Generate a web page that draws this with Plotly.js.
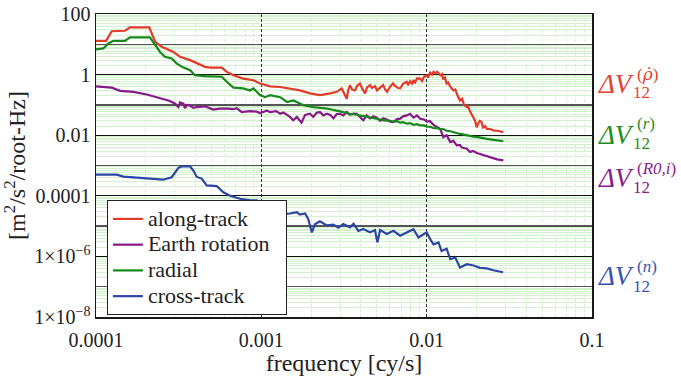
<!DOCTYPE html>
<html>
<head>
<meta charset="utf-8">
<script src="https://cdn.plot.ly/plotly-3.0.1.min.js"></script>
<style>html,body{margin:0;padding:0;background:#fff;}#chart{width:681px;height:378px;}</style>
</head>
<body>
<div id="chart"></div>
<script>
// ---------- data ----------
const seriesNames = ['along-track', 'Earth rotation', 'radial', 'cross-track'];

const freqAlong = [1.00e-4,1.15e-4,1.245e-4,1.497e-4,1.606e-4,2.10e-4,2.28e-4,2.50e-4,2.94e-4,3.22e-4,3.71e-4,4.16e-4,4.56e-4,4.89e-4,5.76e-4,6.18e-4,6.78e-4,7.78e-4,8.95e-4,9.82e-4,1.13e-3,1.30e-3,1.50e-3,1.71e-3,1.97e-3,2.26e-3,2.61e-3,2.86e-3,3.06e-3,3.29e-3,3.35e-3,3.44e-3,3.54e-3,3.69e-3,3.79e-3,3.95e-3,4.07e-3,4.24e-3,4.36e-3,4.55e-3,4.67e-3,4.87e-3,5.01e-3,5.23e-3,5.45e-3,5.60e-3,5.76e-3,6.01e-3,6.26e-3,6.44e-3,6.71e-3,6.91e-3,7.20e-3,7.58e-3,7.72e-3,7.94e-3,8.16e-3,8.32e-3,8.51e-3,8.75e-3,9.13e-3,9.38e-3,9.64e-3,1.00e-2,1.02e-2,1.05e-2,1.078e-2,1.10e-2,1.124e-2,1.156e-2,1.21e-2,1.24e-2,1.257e-2,1.29e-2,1.32e-2,1.35e-2,1.39e-2,1.45e-2,1.49e-2,1.53e-2,1.59e-2,1.64e-2,1.68e-2,1.75e-2,1.78e-2,1.83e-2,1.87e-2,1.91e-2,1.96e-2,2.01e-2,2.05e-2,2.10e-2,2.15e-2,2.19e-2,2.26e-2,2.31e-2,2.42e-2,2.53e-2,2.67e-2,2.78e-2,2.91e-2];
const psdAlong = [13,13,27,28,36,36,12,8.3,5.6,3.9,3.0,2.3,1.8,1.7,1.7,1.23,0.95,0.74,0.65,0.51,0.41,0.39,0.34,0.30,0.24,0.21,0.24,0.27,0.35,0.16,0.30,0.45,0.32,0.30,0.42,0.51,0.35,0.24,0.38,0.45,0.36,0.42,0.30,0.38,0.45,0.33,0.27,0.40,0.51,0.42,0.36,0.35,0.50,0.58,0.45,0.60,0.50,0.65,0.55,0.75,0.74,0.62,0.85,0.95,0.80,1.15,1.0,1.23,1.1,1.25,0.95,1.05,0.70,0.80,0.51,0.55,0.40,0.30,0.32,0.22,0.14,0.16,0.10,0.085,0.09,0.06,0.051,0.04,0.03,0.018,0.025,0.03,0.027,0.018,0.02,0.016,0.016,0.0145,0.014,0.013,0.0126];

const freqEarth = [1.00e-4,1.245e-4,1.397e-4,1.682e-4,2.03e-4,2.44e-4,2.80e-4,3.01e-4,3.15e-4,3.22e-4,3.38e-4,3.45e-4,3.54e-4,3.71e-4,3.88e-4,4.07e-4,4.36e-4,4.56e-4,5.12e-4,5.63e-4,6.18e-4,6.78e-4,7.10e-4,7.61e-4,8.55e-4,9.38e-4,9.82e-4,1.08e-3,1.13e-3,1.23e-3,1.30e-3,1.36e-3,1.43e-3,1.49e-3,1.56e-3,1.64e-3,1.75e-3,1.84e-3,1.97e-3,2.06e-3,2.16e-3,2.26e-3,2.37e-3,2.49e-3,2.61e-3,2.73e-3,2.86e-3,2.99e-3,3.13e-3,3.29e-3,3.44e-3,3.61e-3,3.78e-3,3.95e-3,4.14e-3,4.34e-3,4.55e-3,4.76e-3,4.99e-3,5.23e-3,5.47e-3,5.74e-3,6.01e-3,6.29e-3,6.62e-3,6.91e-3,7.20e-3,7.58e-3,7.94e-3,8.32e-3,8.75e-3,9.13e-3,9.64e-3,1.00e-2,1.05e-2,1.10e-2,1.156e-2,1.21e-2,1.26e-2,1.32e-2,1.39e-2,1.45e-2,1.52e-2,1.59e-2,1.63e-2,1.75e-2,1.83e-2,1.91e-2,2.01e-2,2.10e-2,2.31e-2,2.42e-2,2.67e-2,2.91e-2];
const psdEarth = [0.41,0.37,0.29,0.27,0.22,0.17,0.135,0.11,0.085,0.12,0.11,0.078,0.10,0.095,0.08,0.085,0.085,0.09,0.07,0.075,0.075,0.072,0.078,0.058,0.062,0.06,0.054,0.064,0.058,0.062,0.051,0.056,0.047,0.04,0.031,0.04,0.026,0.047,0.051,0.04,0.055,0.058,0.045,0.051,0.047,0.036,0.05,0.051,0.045,0.058,0.047,0.052,0.051,0.04,0.031,0.045,0.036,0.042,0.038,0.03,0.036,0.033,0.028,0.027,0.034,0.035,0.042,0.045,0.051,0.038,0.045,0.035,0.033,0.028,0.029,0.022,0.018,0.016,0.0086,0.010,0.0059,0.0065,0.0046,0.0048,0.0039,0.0036,0.0028,0.0030,0.0026,0.0024,0.0021,0.0019,0.0016,0.00147];

const freqRadial = [1.00e-4,1.107e-4,1.187e-4,1.273e-4,1.497e-4,1.606e-4,2.12e-4,2.28e-4,2.44e-4,2.61e-4,2.87e-4,3.08e-4,3.38e-4,3.71e-4,3.97e-4,4.56e-4,5.37e-4,5.76e-4,6.18e-4,6.78e-4,7.78e-4,8.55e-4,8.95e-4,9.82e-4,1.052e-3,1.13e-3,1.30e-3,1.43e-3,1.56e-3,1.80e-3,2.06e-3,2.49e-3,3.13e-3,3.44e-3,3.78e-3,3.95e-3,4.34e-3,4.55e-3,4.99e-3,5.47e-3,6.01e-3,6.29e-3,6.62e-3,6.91e-3,7.20e-3,7.58e-3,7.94e-3,8.32e-3,8.75e-3,9.13e-3,9.64e-3,1.00e-2,1.05e-2,1.10e-2,1.156e-2,1.21e-2,1.257e-2,1.32e-2,1.39e-2,1.45e-2,1.53e-2,1.59e-2,1.68e-2,1.75e-2,1.83e-2,1.91e-2,2.01e-2,2.10e-2,2.20e-2,2.31e-2,2.42e-2,2.53e-2,2.67e-2,2.78e-2,2.91e-2];
const psdRadial = [6.8,7.3,10.7,13,13,17,17,9.4,5.6,3.9,3.4,2.3,1.7,1.4,0.95,0.89,0.89,0.85,0.58,0.37,0.35,0.30,0.35,0.21,0.18,0.21,0.18,0.125,0.14,0.098,0.085,0.076,0.058,0.05,0.048,0.044,0.041,0.038,0.035,0.031,0.030,0.028,0.029,0.026,0.027,0.024,0.025,0.022,0.023,0.021,0.021,0.019,0.019,0.017,0.0175,0.0155,0.016,0.014,0.0135,0.0125,0.012,0.011,0.0105,0.0099,0.0095,0.009,0.0088,0.0083,0.008,0.0076,0.0073,0.007,0.0067,0.0065,0.0063];

const freqCross = [1.00e-4,1.334e-4,1.463e-4,1.933e-4,2.55e-4,2.87e-4,3.15e-4,3.30e-4,3.71e-4,3.88e-4,4.07e-4,4.36e-4,4.67e-4,5.37e-4,5.89e-4,6.47e-4,7.43e-4,8.55e-4,9.38e-4,1.08e-3,1.23e-3,1.36e-3,1.49e-3,1.64e-3,1.71e-3,1.84e-3,1.92e-3,2.02e-3,2.11e-3,2.26e-3,2.49e-3,2.73e-3,2.92e-3,3.13e-3,3.44e-3,3.61e-3,3.86e-3,4.14e-3,4.55e-3,4.87e-3,5.03e-3,5.23e-3,5.74e-3,6.29e-3,6.91e-3,7.58e-3,8.32e-3,8.92e-3,9.57e-3,1.00e-2,1.05e-2,1.10e-2,1.18e-2,1.23e-2,1.32e-2,1.39e-2,1.49e-2,1.59e-2,1.75e-2,1.92e-2,2.10e-2,2.31e-2,2.53e-2,2.78e-2,2.90e-2];
const psdCross = [5.0e-4,5.0e-4,4.3e-4,3.9e-4,3.4e-4,4.1e-4,8.4e-4,9.3e-4,9.3e-4,6.8e-4,4.2e-4,3.7e-4,2.2e-4,2.1e-4,1.3e-4,1.0e-4,8.0e-5,7.1e-5,7.1e-5,4.5e-5,3.2e-5,2.5e-5,2.6e-5,2.9e-5,2.4e-5,2.6e-5,1.72e-5,6.2e-6,1.15e-5,1.45e-5,1.05e-5,1.12e-5,8.8e-6,1.17e-5,9.1e-6,1.2e-5,6.9e-6,8.0e-6,6.2e-6,7.4e-6,2.9e-6,7.4e-6,5.5e-6,7.0e-6,4.8e-6,6.2e-6,7.9e-6,4.2e-6,5.5e-6,6.2e-6,3.7e-6,2.5e-6,2.9e-6,1.5e-6,1.8e-6,8.1e-7,9.2e-7,4.3e-7,5.5e-7,5.0e-7,4.2e-7,4.0e-7,3.5e-7,3.1e-7,3.0e-7];

const xTickVals = [1e-4, 1e-3, 1e-2, 1e-1];
const xTickText = ['0.0001', '0.001', '0.01', '0.1'];
const yTickVals = [1e2, 1, 1e-2, 1e-4, 1e-6, 1e-8];
const yTickText = ['100', '1', '0.01', '0.0001', '1×10<sup>−6</sup>', '1×10<sup>−8</sup>'];
const yOddDecades = [10, 0.1, 1e-3, 1e-5, 1e-7];

// ---------- styling ----------
const FONT = "'Liberation Serif', 'Times New Roman', Times, serif";
const colors = ['#e33b2b', '#861a88', '#16891a', '#2d46a6'];
const labelColors = ['#e5412f', '#1f8d22', '#8a1c8c', '#3a54b3'];

function minorVals(d0, d1) {
  const v = [];
  for (let d = d0; d < d1; d++) for (let k = 2; k <= 9; k++) v.push(k * Math.pow(10, d));
  return v;
}

const xs = [freqAlong, freqEarth, freqRadial, freqCross];
const ys = [psdAlong, psdEarth, psdRadial, psdCross];
const traces = seriesNames.map((n, i) => ({
  type: 'scatter', mode: 'lines',
  name: '<span style="font-size:22px">' + n + '\u00A0\u00A0</span>',
  x: xs[i], y: ys[i],
  line: {color: colors[i], width: 2.2},
  xaxis: 'x', yaxis: 'y'
}));
// empty helper trace so the overlaid axis (odd-decade grid lines) is drawn
traces.unshift({type: 'scatter', mode: 'lines', x: [], y: [], xaxis: 'x', yaxis: 'y2', showlegend: false, hoverinfo: 'skip'});

const axisCommon = {
  type: 'log', showline: true, mirror: true, linecolor: '#1a1a1a', linewidth: 1.5,
  ticks: '', tickfont: {family: FONT, size: 20, color: '#222'}, zeroline: false
};

const layout = {
  width: 681, height: 378,
  margin: {l: 96, r: 89, t: 14, b: 61},
  paper_bgcolor: '#fff', plot_bgcolor: '#fff',
  font: {family: FONT, color: '#222'},
  showlegend: true,
  legend: {
    x: 0.022, y: 0.386, xanchor: 'left', yanchor: 'top',
    bgcolor: '#fff', bordercolor: '#222', borderwidth: 1,
    font: {family: FONT, size: 17.5, color: '#222'}
  },
  xaxis: Object.assign({}, axisCommon, {
    range: [-4, -1], tickmode: 'array', tickvals: xTickVals, ticktext: xTickText,
    showgrid: true, gridcolor: '#333', gridwidth: 1.5, griddash: '3px,2px',
    ticklabelstandoff: 4,
    minor: {tickmode: 'array', tickvals: minorVals(-4, -1), showgrid: true, gridcolor: '#d3f1cc', gridwidth: 1, ticks: ''},
    title: {text: 'frequency [cy/s]', font: {family: FONT, size: 24, color: '#222'}, standoff: 0}
  }),
  yaxis: Object.assign({}, axisCommon, {
    range: [-8, 2], tickmode: 'array', tickvals: yTickVals, ticktext: yTickText,
    showgrid: true, gridcolor: '#111', gridwidth: 1.3,
    ticklabelstandoff: 0,
    minor: {tickmode: 'array', tickvals: minorVals(-8, 2), showgrid: true, gridcolor: '#d3f1cc', gridwidth: 1, ticks: ''},
    title: {text: '[m<sup>2</sup>/s<sup>2</sup>/root-Hz]', font: {family: FONT, size: 24, color: '#222'}, standoff: 3}
  }),
  yaxis2: {
    type: 'log', overlaying: 'y', anchor: 'x', side: 'left', range: [-8, 2],
    tickmode: 'array', tickvals: yOddDecades, showticklabels: false, ticks: '',
    showgrid: true, gridcolor: '#555', gridwidth: 1.5, showline: false, zeroline: false
  },
  annotations: []
};

// right-hand labels: ΔV, subscript 12, superscript
const supTexts = ['(<span style="font-family:DejaVu Serif"><i>ρ̇</i></span>)', '(<i>r</i>)', '(<i>R0,i</i>)', '(<i>n</i>)'];
const labelY = [0.769, 0.601, 0.459, 0.135];
const subY = [0.741, 0.573, 0.426, 0.102];
const supY = [0.802, 0.637, 0.489, 0.168];
for (let i = 0; i < 4; i++) {
  layout.annotations.push({xref: 'paper', yref: 'paper', x: 1.008, y: labelY[i], xanchor: 'left', yanchor: 'middle',
    showarrow: false, text: '<i>ΔV</i>', font: {family: FONT, size: 27, color: labelColors[i]}});
  layout.annotations.push({xref: 'paper', yref: 'paper', x: 1.079, y: subY[i], xanchor: 'left', yanchor: 'middle',
    showarrow: false, text: '12', font: {family: FONT, size: 17, color: labelColors[i]}});
  layout.annotations.push({xref: 'paper', yref: 'paper', x: 1.087, y: supY[i], xanchor: 'left', yanchor: 'middle',
    showarrow: false, text: supTexts[i], font: {family: FONT, size: 17, color: labelColors[i]}});
}

Plotly.newPlot('chart', traces, layout, {displayModeBar: false, staticPlot: true});
</script>
</body>
</html>
